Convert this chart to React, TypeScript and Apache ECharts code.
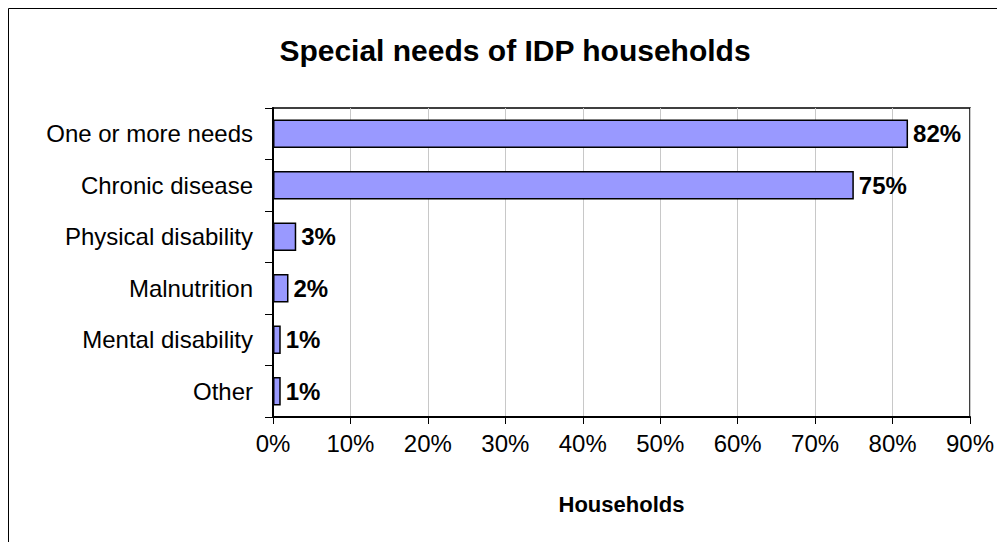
import React, { useEffect, useRef } from "react";
import * as echarts from "echarts";

const categories = ["One or more needs", "Chronic disease", "Physical disability", "Malnutrition", "Mental disability", "Other"];
const values = [82, 75, 3, 2, 1, 1];
const titleText = "Special needs of IDP households";
const axisName = "Households";

export default function App() {
  const ref = useRef<HTMLDivElement>(null);
  useEffect(() => {
    const chart = echarts.init(ref.current!, null, { renderer: "svg" });
    const font = "Arial, 'Liberation Sans', sans-serif";
    chart.setOption({
      animation: false,
      backgroundColor: "#ffffff",
      graphic: [
        {
          type: "rect",
          shape: { x: 0.5, y: 0.5, width: 1200, height: 800 },
          style: { fill: "none", stroke: "#000", lineWidth: 1 },
          silent: true,
        },
        {
          type: "text",
          x: 507,
          y: 42,
          style: {
            text: titleText,
            fontFamily: font,
            fontSize: 30,
            fontWeight: "bold",
            fill: "#000",
            align: "center",
            verticalAlign: "middle",
          },
          silent: true,
        },
      ],
      grid: { left: 265, right: 35, top: 100, bottom: 125, show: true, borderColor: "#000", borderWidth: 1.5, backgroundColor: "transparent" },
      xAxis: {
        type: "value",
        min: 0,
        max: 90,
        interval: 10,
        name: axisName,
        nameLocation: "middle",
        nameGap: 76,
        nameTextStyle: { fontFamily: font, fontSize: 22, fontWeight: "bold", color: "#000" },
        axisLine: { show: true, lineStyle: { color: "#000", width: 2 } },
        axisTick: { show: true, length: 7, lineStyle: { color: "#000" } },
        axisLabel: { formatter: "{value}%", margin: 14, fontFamily: font, fontSize: 24, color: "#000" },
        splitLine: { show: true, lineStyle: { color: "#c8c8c8", width: 1 } },
      },
      yAxis: {
        type: "category",
        data: categories,
        inverse: true,
        axisLine: { show: true, lineStyle: { color: "#000", width: 2 } },
        axisTick: { show: true, length: 8, lineStyle: { color: "#000" } },
        axisLabel: { margin: 20, fontFamily: font, fontSize: 24, color: "#000" },
        splitLine: { show: false },
      },
      series: [
        {
          type: "bar",
          data: values,
          barCategoryGap: "45%",
          itemStyle: { color: "#9999ff", borderColor: "#000", borderWidth: 1.5 },
          label: {
            show: true,
            position: "right",
            distance: 5,
            formatter: "{c}%",
            fontFamily: font,
            fontSize: 24,
            fontWeight: "bold",
            color: "#000",
          },
        },
      ],
    });
    return () => chart.dispose();
  }, []);
  return <div ref={ref} style={{ width: 997, height: 534 }} />;
}
